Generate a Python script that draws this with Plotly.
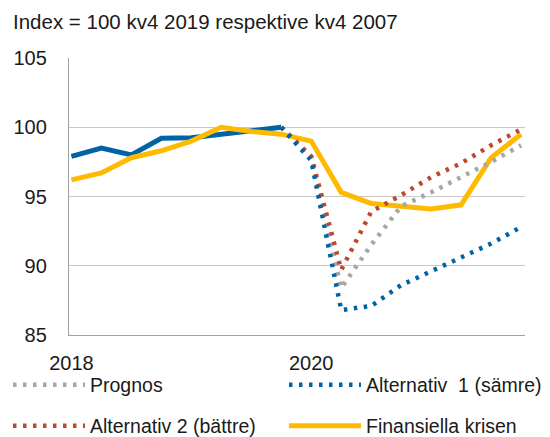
import plotly.graph_objects as go

# kvartal 2018 kv1 - 2021 kv4
quarters = [f"{y} kv{q}" for y in (2018, 2019, 2020, 2021) for q in (1, 2, 3, 4)]
hist_q = quarters[:8]
prog_q = quarters[7:]

tick_vals = ["2018 kv1", "2020 kv1"]
tick_text = ["2018", "2020"]

utfall = [97.9, 98.5, 98.0, 99.2, 99.25, 99.5, 99.8, 100.0]
prognos = [100.0, 97.8, 88.4, 91.5, 94.3, 95.3, 96.4, 97.5, 98.7]
alt1 = [100.0, 97.6, 86.8, 87.1, 88.6, 89.6, 90.6, 91.6, 92.8]
alt2 = [100.0, 97.9, 89.7, 93.9, 95.1, 96.4, 97.4, 98.7, 99.85]
krisen = [96.2, 96.7, 97.8, 98.3, 99.0, 100.0, 99.7, 99.5,
          99.0, 95.3, 94.5, 94.3, 94.1, 94.4, 97.8, 99.5]

BLUE = "#0063a6"
RED = "#c0462f"
GREY = "#a6a6a6"
YELLOW = "#ffba00"
DOT = "3.5px,6.5px"

# sidan har 8 px marginal runt figuren
W, H = 542, 429

fig = go.Figure()
fig.add_trace(go.Scatter(x=hist_q, y=utfall, mode="lines", showlegend=False,
                         line=dict(color=BLUE, width=5)))
fig.add_trace(go.Scatter(x=quarters, y=krisen, mode="lines", name="Finansiella krisen",
                         legend="legend4",
                         line=dict(color=YELLOW, width=5)))
fig.add_trace(go.Scatter(x=prog_q, y=prognos, mode="lines", name="Prognos",
                         legend="legend",
                         line=dict(color=GREY, width=4.5, dash=DOT)))
fig.add_trace(go.Scatter(x=prog_q, y=alt2, mode="lines", name="Alternativ 2 (bättre)",
                         legend="legend3",
                         line=dict(color=RED, width=4.5, dash=DOT)))
fig.add_trace(go.Scatter(x=prog_q, y=alt1, mode="lines", name="Alternativ  1 (sämre)",
                         legend="legend2",
                         line=dict(color=BLUE, width=4.5, dash=DOT)))

font = dict(family="Liberation Sans, Arial, sans-serif", size=20, color="#1a1a1a")
leg = dict(orientation="h", xref="container", yref="container",
           xanchor="left", yanchor="middle",
           itemwidth=72, font=dict(size=19.5), bgcolor="rgba(0,0,0,0)")
col1, col2 = 0.0, 276 / W
row1, row2 = 1 - 377 / H, 1 - 418 / H

fig.update_layout(
    width=W, height=H,
    margin=dict(l=61, r=25, t=50, b=101.5, autoexpand=False),
    paper_bgcolor="white", plot_bgcolor="white",
    font=font,
    title=dict(text="Index = 100 kv4 2019 respektive kv4 2007",
               x=5 / W, xanchor="left", xref="container",
               y=1 - 14 / H, yanchor="middle", yref="container",
               font=dict(size=20.5)),
    legend=dict(leg, x=col1, y=row1),
    legend2=dict(leg, x=col2, y=row1),
    legend3=dict(leg, x=col1, y=row2),
    legend4=dict(leg, x=col2, y=row2),
    xaxis=dict(type="category", categoryorder="array", categoryarray=quarters,
               range=[-0.08, 15.13], tickvals=tick_vals, ticktext=tick_text,
               showgrid=False, showline=True, linecolor="#a0a0a0", linewidth=1.3,
               ticks="", ticklabelstandoff=10, zeroline=False),
    yaxis=dict(range=[85, 105], tickvals=[85, 90, 95, 100, 105],
               showgrid=True, gridcolor="#c8c8c8", gridwidth=1.3,
               showline=True, linecolor="#a0a0a0", linewidth=1.3,
               ticks="", ticklabelstandoff=17, zeroline=False),
)

fig.write_html("out.html")
